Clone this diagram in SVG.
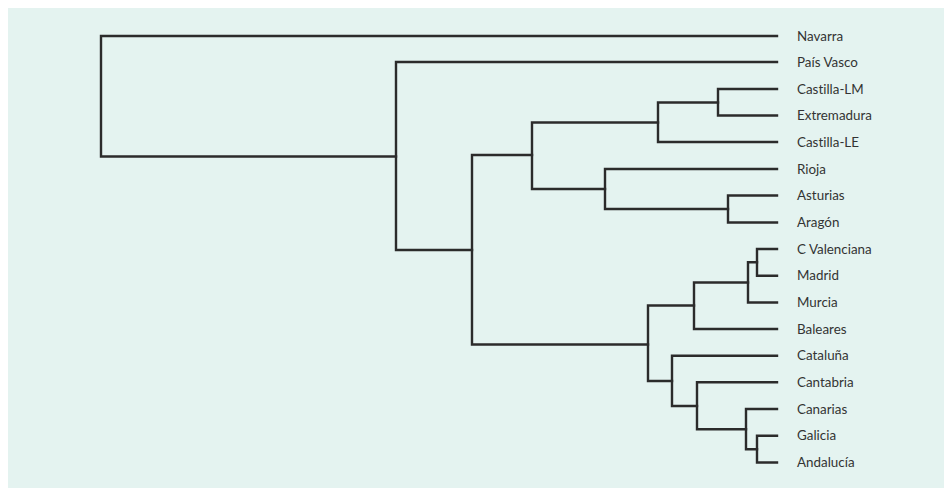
<svg xmlns="http://www.w3.org/2000/svg" width="944" height="488" viewBox="0 0 944 488">
<style>
.bg{fill:#e4f3f0}
.ln{fill:none;stroke:#2b2b2b;stroke-width:2.4;stroke-linejoin:miter;stroke-linecap:square}
.lb{font-family:Lato,"Noto Sans",sans-serif;font-size:13.4px;fill:#333;font-variant-ligatures:none}
</style>
<rect class="bg" x="8" y="8" width="936" height="480"/>
<g id="connectors">
<path class="ln" d="M777,36 H101 V156.5 H396"/>
<path class="ln" d="M777,62 H396 V250 H472"/>
<path class="ln" d="M532,155 H472 V344.5 H648"/>
<path class="ln" d="M658,122.5 H532 V189 H605"/>
<path class="ln" d="M718,102.5 H658 V142 H777"/>
<path class="ln" d="M777,89 H718 V115.5 H777"/>
<path class="ln" d="M777,169 H605 V209 H728"/>
<path class="ln" d="M777,195.5 H728 V222.5 H777"/>
<path class="ln" d="M694,305.5 H648 V381 H672"/>
<path class="ln" d="M748,282.5 H694 V329 H777"/>
<path class="ln" d="M757,262.3 H748 V302.5 H777"/>
<path class="ln" d="M777,249 H757 V275.7 H777"/>
<path class="ln" d="M777,355.7 H672 V406 H697"/>
<path class="ln" d="M777,382.3 H697 V429.3 H746"/>
<path class="ln" d="M777,409 H746 V449.3 H757"/>
<path class="ln" d="M777,435.7 H757 V462.5 H777"/>
</g>
<g id="n-navarra"><text class="lb" x="797" y="40.5">Navarra</text></g>
<g id="n-paisvasco"><text class="lb" x="797" y="67">País Vasco</text></g>
<g id="n-castillalm"><text class="lb" x="797" y="93.5">Castilla-LM</text></g>
<g id="n-extremadura"><text class="lb" x="797" y="120">Extremadura</text></g>
<g id="n-castillale"><text class="lb" x="797" y="146.5">Castilla-LE</text></g>
<g id="n-rioja"><text class="lb" x="797" y="173.5">Rioja</text></g>
<g id="n-asturias"><text class="lb" x="797" y="200">Asturias</text></g>
<g id="n-aragon"><text class="lb" x="797" y="227">Aragón</text></g>
<g id="n-cvalenciana"><text class="lb" x="797" y="253.5">C Valenciana</text></g>
<g id="n-madrid"><text class="lb" x="797" y="280">Madrid</text></g>
<g id="n-murcia"><text class="lb" x="797" y="307">Murcia</text></g>
<g id="n-baleares"><text class="lb" x="797" y="333.5">Baleares</text></g>
<g id="n-cataluna"><text class="lb" x="797" y="360">Cataluña</text></g>
<g id="n-cantabria"><text class="lb" x="797" y="387">Cantabria</text></g>
<g id="n-canarias"><text class="lb" x="797" y="413.5">Canarias</text></g>
<g id="n-galicia"><text class="lb" x="797" y="440">Galicia</text></g>
<g id="n-andalucia"><text class="lb" x="797" y="467">Andalucía</text></g>
</svg>
